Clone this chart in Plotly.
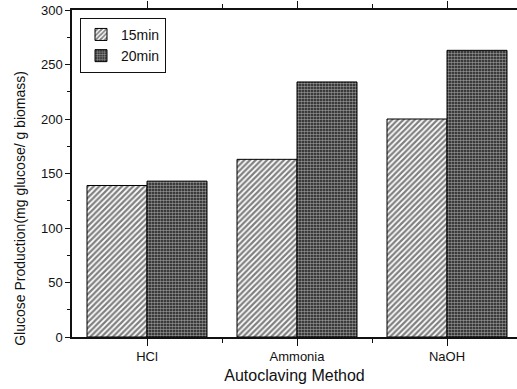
import plotly.graph_objects as go

categories = ["HCl", "Ammonia", "NaOH"]
series_names = ["15min", "20min"]
values_15 = [139, 163, 200]
values_20 = [143, 234, 263]
y_ticks = [0, 50, 100, 150, 200, 250, 300]
y_title = "Glucose Production(mg glucose/ g biomass)"
x_title = "Autoclaving Method"

fig = go.Figure()
fig.add_trace(go.Bar(
    x=categories, y=values_15, name=series_names[0],
    marker=dict(color="white", line=dict(color="#000", width=1),
                pattern=dict(shape="/", fgcolor="#000", bgcolor="white", size=4, solidity=0.55)),
))
fig.add_trace(go.Bar(
    x=categories, y=values_20, name=series_names[1],
    marker=dict(color="white", line=dict(color="#000", width=1),
                pattern=dict(shape=".", fgcolor="white", bgcolor="#1a1a1a", size=3, solidity=0.55)),
))

font = "Liberation Sans, Arial, sans-serif"
fig.update_layout(
    width=517, height=389,
    margin=dict(l=72, r=0, t=10, b=52, autoexpand=False),
    plot_bgcolor="white", paper_bgcolor="white",
    barmode="group", bargap=0.2, bargroupgap=0,
    font=dict(family=font, size=13, color="#111"),
    showlegend=True,
    legend=dict(x=0.018, y=0.976, xanchor="left", yanchor="top",
                bordercolor="#111", borderwidth=1, bgcolor="white",
                font=dict(size=14, family=font), tracegroupgap=0, itemwidth=30,
                entrywidth=65),
    xaxis=dict(
        range=[-0.5, 2.4667], showline=True, linecolor="#111", linewidth=1.5,
        mirror="ticks", ticks="outside", ticklen=7, tickcolor="#111",
        showgrid=False, zeroline=False, automargin=False,
        title=dict(text=x_title, font=dict(size=16), standoff=6),
        tickfont=dict(size=13),
        minor=dict(ticks="outside", ticklen=4, tickcolor="#111", tickvals=[0.5, 1.5, 2.5]),
    ),
    yaxis=dict(
        range=[0, 300], tickvals=y_ticks, showline=True, linecolor="#111", linewidth=1.5,
        mirror="ticks", ticks="outside", ticklen=5, tickcolor="#111",
        showgrid=False, zeroline=False, automargin=False,
        tickfont=dict(size=13), ticklabeloverflow="allow",
        minor=dict(ticks="outside", ticklen=3, tickcolor="#111", dtick=25),
    ),
    annotations=[dict(text=y_title, textangle=-90, xref="paper", yref="paper",
                      x=-0.117, y=0.395, xanchor="center", yanchor="middle",
                      showarrow=False, font=dict(size=14, family=font, color="#111"))],
)
fig.write_html("out.html", config={"displayModeBar": False},
               post_script="document.body.style.margin='0px';")
